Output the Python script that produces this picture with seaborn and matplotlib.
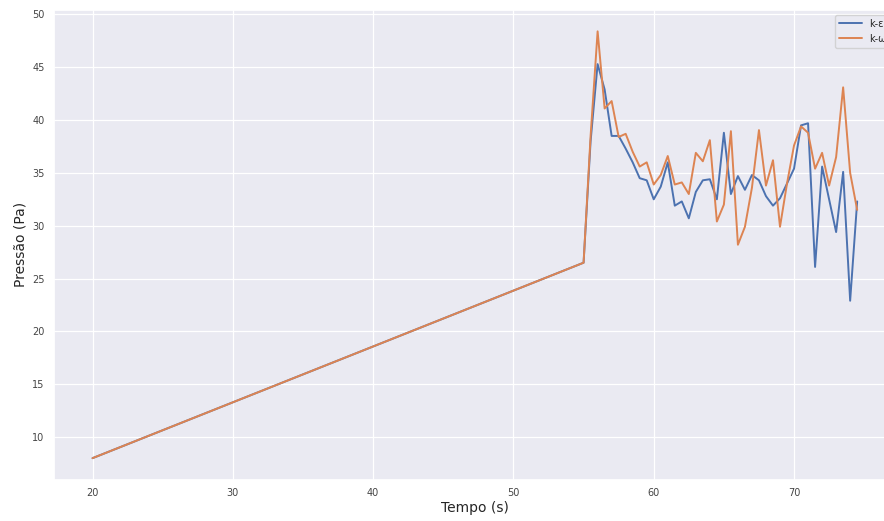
import numpy as np
import pandas as pd
import matplotlib
matplotlib.use("Agg")
import matplotlib.pyplot as plt
import seaborn as sns

# Simulation time (s): ramp start, then output every 0.5 s from 55 s on
tempo = [20.0] + [55.0 + 0.5 * i for i in range(40)]

# Pressure (Pa) for each turbulence model
p_k_epsilon = [8.0,
               26.5, 38.0, 45.3, 42.9, 38.5, 38.5, 37.3, 36.0, 34.5, 34.3,
               32.5, 33.7, 36.0, 31.9, 32.3, 30.7, 33.2, 34.3, 34.4, 32.5,
               38.8, 33.0, 34.7, 33.4, 34.8, 34.3, 32.8, 31.9, 32.6, 34.0,
               35.4, 39.5, 39.7, 26.1, 35.6, 32.5, 29.4, 35.1, 22.9, 32.3]
p_k_omega = [8.0,
             26.5, 38.5, 48.4, 41.1, 41.8, 38.4, 38.7, 37.0, 35.6, 36.0,
             33.9, 34.8, 36.6, 33.9, 34.1, 33.0, 36.9, 36.1, 38.1, 30.4,
             32.0, 38.95, 28.2, 29.9, 33.6, 39.05, 33.8, 36.2, 29.9, 34.0,
             37.6, 39.4, 38.8, 35.4, 36.9, 33.8, 36.5, 43.1, 35.0, 31.5]
modelos = ["k-ε", "k-ω"]

df = pd.concat([
    pd.DataFrame({"Tempo": tempo, "Pressao": p_k_epsilon, "Modelo": modelos[0]}),
    pd.DataFrame({"Tempo": tempo, "Pressao": p_k_omega, "Modelo": modelos[1]}),
], ignore_index=True)

sns.set_theme(style="darkgrid", rc={"grid.linewidth": 0.9})

fig = plt.figure(figsize=(8.84, 5.21), dpi=100)
ax = fig.add_axes([54.3 / 884, 1 - 479.5 / 521, (895.4 - 54.3) / 884, (479.5 - 10) / 521])

sns.lineplot(data=df, x="Tempo", y="Pressao", hue="Modelo",
             hue_order=modelos, palette=["#4C72B0", "#DD8452"],
             linewidth=1.4, ax=ax)

ax.set_xlabel("Tempo (s)", fontsize=10, labelpad=2)
ax.set_ylabel("Pressão (Pa)", fontsize=10, labelpad=3)
ax.tick_params(axis="both", labelsize=7, length=0, labelcolor="#444444")
ax.tick_params(axis="x", pad=6)
ax.tick_params(axis="y", pad=7)
ax.set_yticks([10, 15, 20, 25, 30, 35, 40, 45, 50])

leg = ax.legend(loc="upper right", fontsize=7, title=None,
                borderaxespad=0.5, handlelength=2.3)

fig.savefig("out.png", dpi=100)
